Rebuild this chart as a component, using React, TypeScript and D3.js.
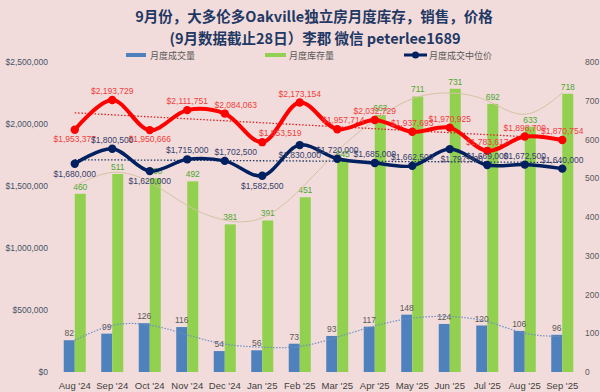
import React, { useEffect, useRef } from 'react';
import * as d3 from 'd3';

// data
const months = ["Aug '24", "Sep '24", "Oct '24", "Nov '24", "Dec '24", "Jan '25", "Feb '25",
  "Mar '25", "Apr '25", "May '25", "Jun '25", "Jul '25", "Aug '25", "Sep '25"];
const sales = [82, 99, 126, 116, 54, 56, 73, 93, 117, 148, 124, 120, 106, 96];
const inventory = [460, 511, 500, 492, 381, 391, 451, 545, 663, 711, 731, 692, 633, 718];
const avgPrice = [1953377, 2193729, 1950666, 2111751, 2084063, 1853519, 2173154,
  1957714, 2032729, 1937693, 1970925, 1783617, 1898700, 1870754];
const medianPrice = [1680000, 1800500, 1620000, 1715000, 1702500, 1582500, 1830000,
  1720000, 1685000, 1662500, 1797500, 1669000, 1672500, 1640000];
// trendlines as they appear in the picture
const salesTrend = [82, 120, 121, 96, 72, 64, 66, 90, 119, 139, 143, 130, 100, 92];
const inventoryTrend = [480, 515, 490, 430, 392, 398, 470, 570, 650, 705, 720, 700, 665, 720];
const avgTrend = [2090000, 1882000];
const medianTrend = [1712000, 1690000];
const leftTicks = [0, 500000, 1000000, 1500000, 2000000, 2500000];
const rightTicks = [0, 100, 200, 300, 400, 500, 600, 700, 800];

const W = 600;
const H = 392;

// label placement tweaks (index -> below / dx)
const redBelow = new Set([0, 2]);
const redDx: Record<number, number> = { 4: 11, 5: 18, 7: 6 };
const navyBelow = new Set([0, 2, 5, 6, 10]);
const navyDx: Record<number, number> = { 4: 11, 10: 12 };

const numFont = "'Liberation Sans Narrow', 'Liberation Sans', sans-serif";
const cjkFont = "'Noto Sans CJK SC', sans-serif";

export default function App() {
  const ref = useRef<SVGSVGElement>(null);

  useEffect(() => {
    const svg = d3.select(ref.current);
    svg.selectAll('*').remove();

    svg.append('rect').attr('width', W).attr('height', H).attr('fill', '#f2dcdb');

    // scales
    const x = d3.scaleBand().domain(months).range([56, 581]).paddingInner(0.413).paddingOuter(0.2065);
    const sub = d3.scaleBand().domain(['sales', 'inv']).range([0, x.bandwidth()]);
    const cx = (i: number) => (x(months[i]) as number) + x.bandwidth() / 2;
    const yL = d3.scaleLinear().domain([0, 2500000]).range([372, 62]);
    const yR = d3.scaleLinear().domain([0, 800]).range([372, 62]);

    // title
    const title = svg.append('g').attr('font-family', cjkFont).attr('font-weight', 'bold')
      .attr('fill', '#1f3864').attr('text-anchor', 'middle').attr('font-size', 14.5);
    title.append('text').attr('x', 314).attr('y', 22).text('9月份，大多伦多Oakville独立房月度库存，销售，价格');
    title.append('text').attr('x', 315).attr('y', 44).text('(9月数据截止28日）李郡  微信 peterlee1689');

    // legend
    const lg = svg.append('g').attr('font-family', cjkFont).attr('font-size', 9).attr('fill', '#595959');
    lg.append('rect').attr('x', 126).attr('y', 53).attr('width', 20).attr('height', 4).attr('fill', '#4f81bd');
    lg.append('text').attr('x', 150).attr('y', 58.5).text('月度成交量');
    lg.append('rect').attr('x', 265).attr('y', 53).attr('width', 21).attr('height', 4).attr('fill', '#92d050');
    lg.append('text').attr('x', 289).attr('y', 58.5).text('月度库存量');
    lg.append('line').attr('x1', 404).attr('x2', 427).attr('y1', 55).attr('y2', 55)
      .attr('stroke', '#002060').attr('stroke-width', 3);
    lg.append('circle').attr('cx', 415.5).attr('cy', 55).attr('r', 3.5).attr('fill', '#002060');
    lg.append('text').attr('x', 429).attr('y', 58.5).text('月度成交中位价');

    // axes
    const axL = svg.append('g').attr('transform', 'translate(56,0)')
      .call(d3.axisLeft(yL).tickValues(leftTicks).tickSize(0).tickPadding(8)
        .tickFormat(d => '$' + d3.format(',')(d as number)));
    const axR = svg.append('g').attr('transform', 'translate(581,0)')
      .call(d3.axisRight(yR).tickValues(rightTicks).tickSize(0).tickPadding(4));
    const axB = svg.append('g').attr('transform', 'translate(0,372)')
      .call(d3.axisBottom(x).tickSize(0).tickPadding(10));
    [axL, axR, axB].forEach(a => a.select('.domain').remove());
    axL.selectAll('text').attr('font-family', numFont).attr('font-size', 8.5).attr('fill', '#44546a');
    axR.selectAll('text').attr('font-family', numFont).attr('font-size', 8.5).attr('fill', '#595959');
    axB.selectAll('text').attr('font-family', "'Liberation Sans', sans-serif").attr('font-size', 9.5).attr('fill', '#404040');

    // bars
    svg.append('g').selectAll('rect.s').data(sales).enter().append('rect')
      .attr('x', (d, i) => (x(months[i]) as number) + (sub('sales') as number))
      .attr('y', d => yR(d)).attr('width', sub.bandwidth()).attr('height', d => 372 - yR(d))
      .attr('fill', '#4f81bd');
    svg.append('g').selectAll('rect.i').data(inventory).enter().append('rect')
      .attr('x', (d, i) => (x(months[i]) as number) + (sub('inv') as number))
      .attr('y', d => yR(d)).attr('width', sub.bandwidth()).attr('height', d => 372 - yR(d))
      .attr('fill', '#92d050');

    // bar labels
    svg.append('g').selectAll('text').data(sales).enter().append('text')
      .attr('x', (d, i) => (x(months[i]) as number) + (sub('sales') as number) + sub.bandwidth() / 2)
      .attr('y', d => yR(d) - 4).attr('text-anchor', 'middle')
      .attr('font-family', numFont).attr('font-size', 8.5).attr('fill', '#595959').text(d => d);
    svg.append('g').selectAll('text').data(inventory).enter().append('text')
      .attr('x', (d, i) => (x(months[i]) as number) + (sub('inv') as number) + sub.bandwidth() / 2)
      .attr('y', d => yR(d) - 4).attr('text-anchor', 'middle')
      .attr('font-family', numFont).attr('font-size', 8.5).attr('fill', '#4ea72e').text(d => d);

    // bar trendlines
    const trendR = d3.line<number>().x((d, i) => cx(i)).y(d => yR(d)).curve(d3.curveNatural);
    svg.append('path').attr('d', trendR(inventoryTrend)).attr('fill', 'none')
      .attr('stroke', '#d3c3a3').attr('stroke-width', 1);
    svg.append('path').attr('d', trendR(salesTrend)).attr('fill', 'none')
      .attr('stroke', '#6e8fc0').attr('stroke-width', 1.2).attr('stroke-dasharray', '1.5,1.5');

    // price trendlines
    const x0 = cx(0), x1 = cx(months.length - 1);
    svg.append('line').attr('x1', x0).attr('x2', x1).attr('y1', yL(avgTrend[0])).attr('y2', yL(avgTrend[1]))
      .attr('stroke', '#e02020').attr('stroke-width', 1.3).attr('stroke-dasharray', '1.5,1.8');
    svg.append('line').attr('x1', x0).attr('x2', x1).attr('y1', yL(medianTrend[0])).attr('y2', yL(medianTrend[1]))
      .attr('stroke', '#1f3864').attr('stroke-width', 1.3).attr('stroke-dasharray', '1.5,1.8');

    // price lines
    const line = d3.line<number>().x((d, i) => cx(i)).y(d => yL(d)).curve(d3.curveCatmullRom.alpha(0.5));
    svg.append('path').attr('d', line(avgPrice)).attr('fill', 'none')
      .attr('stroke', '#ff0000').attr('stroke-width', 4);
    svg.append('g').selectAll('circle').data(avgPrice).enter().append('circle')
      .attr('cx', (d, i) => cx(i)).attr('cy', d => yL(d)).attr('r', 4.2).attr('fill', '#ff0000');
    svg.append('path').attr('d', line(medianPrice)).attr('fill', 'none')
      .attr('stroke', '#002060').attr('stroke-width', 3.5);
    svg.append('g').selectAll('circle').data(medianPrice).enter().append('circle')
      .attr('cx', (d, i) => cx(i)).attr('cy', d => yL(d)).attr('r', 4.2).attr('fill', '#002060');

    // price labels
    const money = (d: number) => '$' + d3.format(',')(d);
    svg.append('g').selectAll('text').data(avgPrice).enter().append('text')
      .attr('x', (d, i) => cx(i) + (redDx[i] || 0))
      .attr('y', (d, i) => yL(d) + (redBelow.has(i) ? 12 : -6))
      .attr('text-anchor', 'middle').attr('font-family', numFont).attr('font-size', 8.5)
      .attr('fill', '#f03c3c').text(money);
    svg.append('g').selectAll('text').data(medianPrice).enter().append('text')
      .attr('x', (d, i) => cx(i) + (navyDx[i] || 0))
      .attr('y', (d, i) => yL(d) + (navyBelow.has(i) ? 13 : -6))
      .attr('text-anchor', 'middle').attr('font-family', numFont).attr('font-size', 8.5)
      .attr('fill', '#34406a').text(money);
  }, []);

  return (
    <svg ref={ref} width={W} height={H}
      style={{ position: 'absolute', left: 0, top: 0, display: 'block' }} />
  );
}
